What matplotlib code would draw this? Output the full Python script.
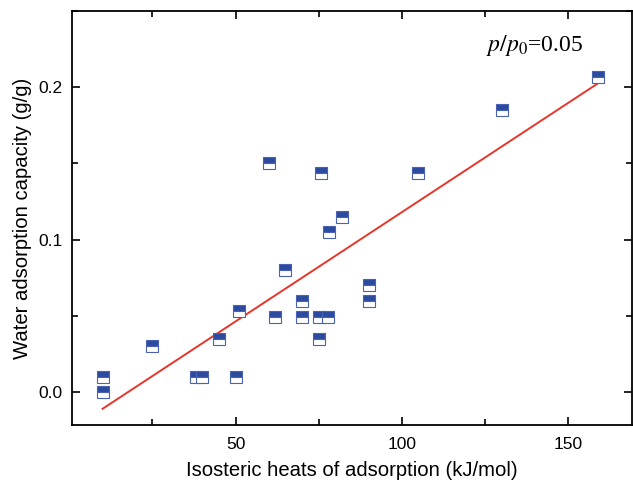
import matplotlib
matplotlib.use("Agg")
import matplotlib.pyplot as plt
from matplotlib.ticker import MultipleLocator
import numpy as np

heat = [10, 10, 25, 38, 40, 50, 45, 51, 60, 62, 65, 70, 70, 75, 75, 75.6, 77.7, 78, 82, 90, 90, 105, 130, 159]
capacity = [0.01, 0.0, 0.03, 0.01, 0.01, 0.01, 0.035, 0.053, 0.15, 0.049, 0.08, 0.06, 0.049, 0.035, 0.049, 0.144, 0.049, 0.105, 0.115, 0.06, 0.07, 0.144, 0.185, 0.207]
fit_x = [10, 159]
fit_y = [-0.011, 0.2026]

plt.rcParams['font.family'] = ['Liberation Sans', 'DejaVu Sans']
plt.rcParams['mathtext.fontset'] = 'stix'

fig = plt.figure(figsize=(6.33, 4.84), dpi=100)
ax = fig.add_axes([0.1137, 0.122, 0.885, 0.855])

ax.plot(fit_x, fit_y, color='#e8352c', lw=1.4, zorder=2)
ax.plot(heat, capacity, ls='none', marker='s', markersize=8.5, fillstyle='top',
        markerfacecolor='#2c4a9e', markerfacecoloralt='white',
        markeredgecolor='#4a62b4', markeredgewidth=0.8, zorder=3)

ax.set_xlim(0.8, 169.3)
ax.set_ylim(-0.0216, 0.25)
ax.xaxis.set_major_locator(MultipleLocator(50))
ax.xaxis.set_minor_locator(MultipleLocator(25))
ax.yaxis.set_major_locator(MultipleLocator(0.1))
ax.yaxis.set_minor_locator(MultipleLocator(0.05))
ax.set_yticks([0.0, 0.1, 0.2])
ax.set_yticklabels(['0.0', '0.1', '0.2'])
ax.set_xticks([50, 100, 150])
ax.tick_params(which='both', direction='in', top=True, right=True, width=1.2, labelsize=12.5)
ax.tick_params(which='major', length=6)
ax.tick_params(which='minor', length=4)
ax.tick_params(axis='x', which='major', pad=9)
ax.tick_params(axis='y', which='major', pad=7)
for s in ax.spines.values():
    s.set_linewidth(1.3)

ax.set_xlabel('Isosteric heats of adsorption (kJ/mol)', fontsize=14.6, labelpad=6)
ax.set_ylabel('Water adsorption capacity (g/g)', fontsize=14.6, labelpad=4)

ax.text(140, 0.2275, r'$p/p_0$=0.05', fontsize=17, ha='center', va='center',
        family=['Liberation Serif', 'DejaVu Serif'])

fig.savefig('out.png', dpi=100)
